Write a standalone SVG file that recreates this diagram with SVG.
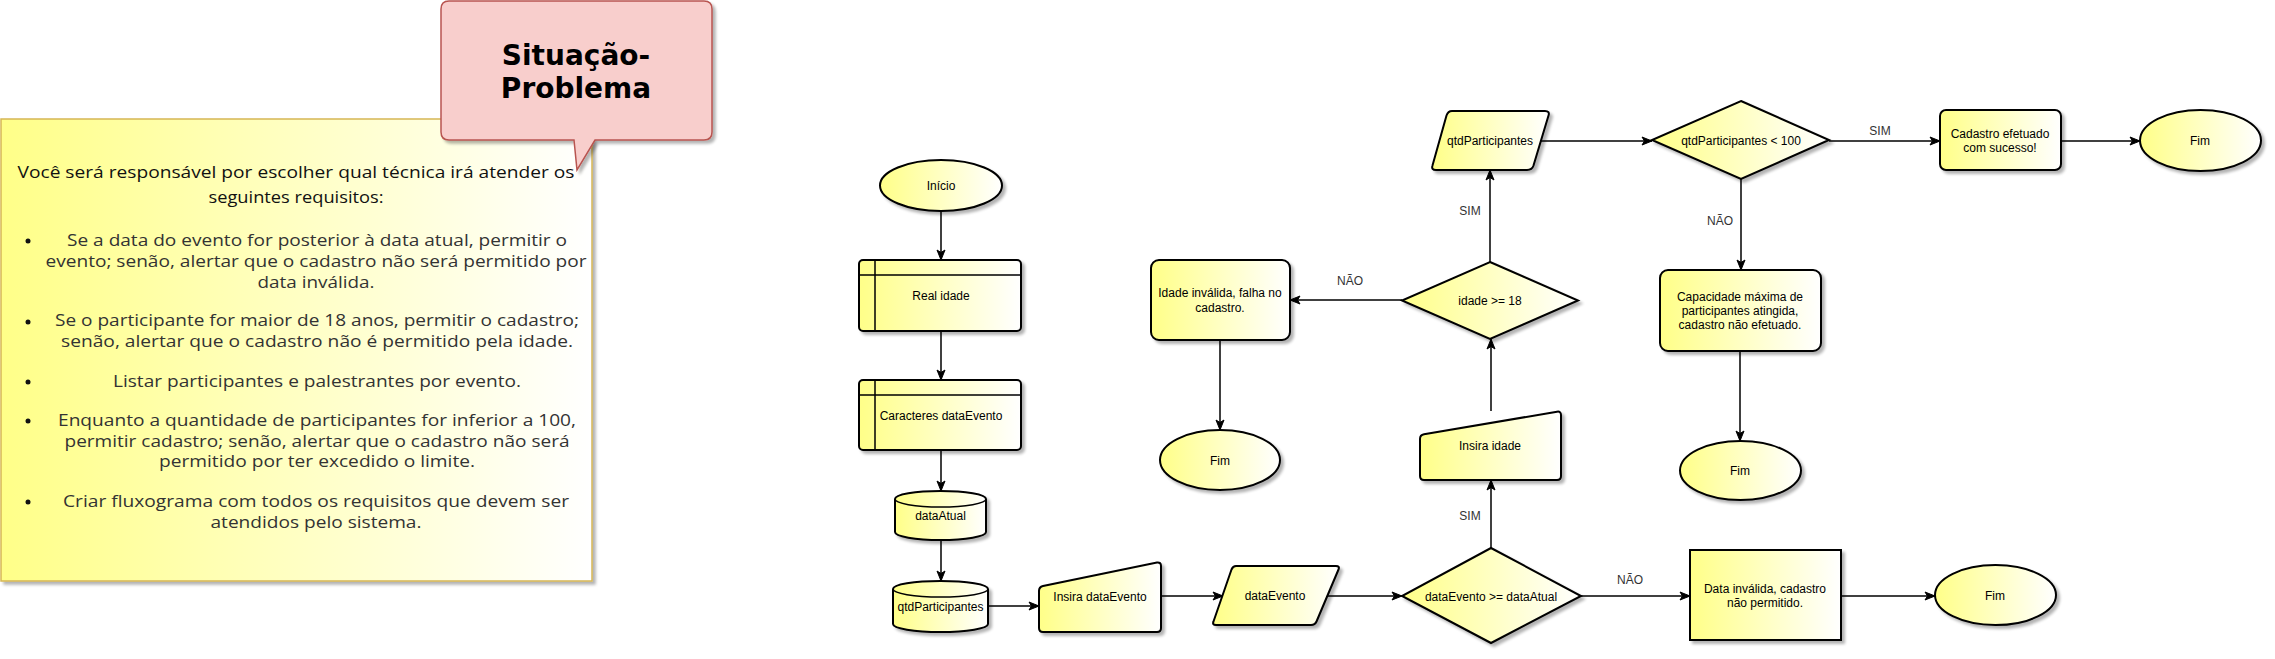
<svg xmlns="http://www.w3.org/2000/svg" width="2275" height="659" viewBox="0 0 2275 659">
<defs>
<linearGradient id="gY" x1="0" y1="0" x2="1" y2="0">
<stop offset="0" stop-color="#ffff88"/>
<stop offset="1" stop-color="#ffffff"/>
</linearGradient>
<filter id="sh" x="-10%" y="-10%" width="130%" height="130%">
<feGaussianBlur in="SourceAlpha" stdDeviation="1.5"/>
<feOffset dx="3" dy="3" result="b"/>
<feComponentTransfer><feFuncA type="linear" slope="0.3"/></feComponentTransfer>
<feMerge><feMergeNode/><feMergeNode in="SourceGraphic"/></feMerge>
</filter>
<marker id="ar" markerUnits="userSpaceOnUse" markerWidth="12" markerHeight="12" viewBox="0 0 12 12" refX="11" refY="6" orient="auto">
<path d="M1,2 L11,6 L1,10 L3.5,6 z" fill="#000" stroke="#000" stroke-width="1"/>
</marker>
<style>
.n{fill:url(#gY);stroke:#000;stroke-width:2;filter:url(#sh)}
.t{font-family:"Liberation Sans",Arial,sans-serif;font-size:12px;fill:#000;text-anchor:middle;dominant-baseline:central}
.lb{font-family:"Liberation Sans",Arial,sans-serif;font-size:12px;fill:#333;text-anchor:middle;dominant-baseline:central}
.e{fill:none;stroke:#000;stroke-width:1.5}
.ea{fill:none;stroke:#000;stroke-width:1.5;marker-end:url(#ar)}
.bt{font-family:"Open Sans","Noto Sans",sans-serif;font-size:17px;fill:#333;text-anchor:middle}
.ht{font-family:"Open Sans","Noto Sans",sans-serif;font-size:17px;fill:#111;text-anchor:middle}
</style>
</defs>
<rect width="2275" height="659" fill="#fff"/>

<g id="note">
<rect x="1" y="119" width="591" height="462" fill="url(#gY)" stroke="#d6b656" stroke-width="1.5" filter="url(#sh)"/>
<text class="ht" x="296" y="178" textLength="557" lengthAdjust="spacingAndGlyphs">Você será responsável por escolher qual técnica irá atender os</text>
<text class="ht" x="296" y="203" textLength="175" lengthAdjust="spacingAndGlyphs">seguintes requisitos:</text>
<g fill="#111"><circle cx="28" cy="241" r="2.5"/><circle cx="28" cy="322" r="2.5"/><circle cx="28" cy="382" r="2.5"/><circle cx="28" cy="421" r="2.5"/><circle cx="28" cy="502" r="2.5"/></g>
<text class="bt" x="317" y="246" textLength="500" lengthAdjust="spacingAndGlyphs">Se a data do evento for posterior à data atual, permitir o</text>
<text class="bt" x="316" y="267" textLength="541" lengthAdjust="spacingAndGlyphs">evento; senão, alertar que o cadastro não será permitido por</text>
<text class="bt" x="316" y="288" textLength="117" lengthAdjust="spacingAndGlyphs">data inválida.</text>
<text class="bt" x="317" y="326" textLength="524" lengthAdjust="spacingAndGlyphs">Se o participante for maior de 18 anos, permitir o cadastro;</text>
<text class="bt" x="317" y="347" textLength="512" lengthAdjust="spacingAndGlyphs">senão, alertar que o cadastro não é permitido pela idade.</text>
<text class="bt" x="317" y="387" textLength="408" lengthAdjust="spacingAndGlyphs">Listar participantes e palestrantes por evento.</text>
<text class="bt" x="317" y="426" textLength="518" lengthAdjust="spacingAndGlyphs">Enquanto a quantidade de participantes for inferior a 100,</text>
<text class="bt" x="317" y="447" textLength="505" lengthAdjust="spacingAndGlyphs">permitir cadastro; senão, alertar que o cadastro não será</text>
<text class="bt" x="317" y="467" textLength="316" lengthAdjust="spacingAndGlyphs">permitido por ter excedido o limite.</text>
<text class="bt" x="316" y="507" textLength="506" lengthAdjust="spacingAndGlyphs">Criar fluxograma com todos os requisitos que devem ser</text>
<text class="bt" x="316" y="528" textLength="211" lengthAdjust="spacingAndGlyphs">atendidos pelo sistema.</text>
</g>

<g id="callout">
<path d="M449,1 H704 Q712,1 712,9 V132 Q712,140 704,140 H595 L577,170 L574,140 H449 Q441,140 441,132 V9 Q441,1 449,1 Z" fill="#f8cecc" stroke="#b85450" stroke-width="1.5" filter="url(#sh)"/>
<text x="576" y="65" font-family="'DejaVu Sans',sans-serif" font-weight="bold" font-size="28" fill="#000" text-anchor="middle">Situação-</text>
<text x="576" y="98" font-family="'DejaVu Sans',sans-serif" font-weight="bold" font-size="28" fill="#000" text-anchor="middle">Problema</text>
</g>

<g id="connectors">
<line class="ea" x1="941" y1="211" x2="941" y2="260"/>
<line class="ea" x1="941" y1="331" x2="941" y2="380"/>
<line class="ea" x1="941" y1="450" x2="941" y2="491"/>
<line class="ea" x1="941" y1="540" x2="941" y2="581"/>
<line class="ea" x1="988" y1="606" x2="1039" y2="606"/>
<line class="ea" x1="1161" y1="596" x2="1223" y2="596"/>
<line class="ea" x1="1327" y1="596" x2="1402" y2="596"/>
<line class="ea" x1="1491" y1="548" x2="1491" y2="480"/>
<line class="ea" x1="1491" y1="411" x2="1491" y2="339"/>
<line class="ea" x1="1402" y1="300" x2="1290" y2="300"/>
<line class="ea" x1="1220" y1="340" x2="1220" y2="430"/>
<line class="ea" x1="1490" y1="262" x2="1490" y2="170"/>
<line class="ea" x1="1540" y1="141" x2="1652" y2="141"/>
<line class="ea" x1="1829" y1="141" x2="1940" y2="141"/>
<line class="ea" x1="2061" y1="141" x2="2140" y2="141"/>
<line class="ea" x1="1741" y1="179" x2="1741" y2="270"/>
<line class="ea" x1="1740" y1="351" x2="1740" y2="441"/>
<line class="ea" x1="1581" y1="596" x2="1690" y2="596"/>
<line class="ea" x1="1841" y1="596" x2="1935" y2="596"/>
<text class="lb" x="1470" y="516">SIM</text>
<text class="lb" x="1470" y="211">SIM</text>
<text class="lb" x="1350" y="281">NÃO</text>
<text class="lb" x="1880" y="131">SIM</text>
<text class="lb" x="1720" y="221">NÃO</text>
<text class="lb" x="1630" y="580">NÃO</text>
</g>

<g id="inicio">
<ellipse class="n" cx="941" cy="185.5" rx="61" ry="25.5"/>
<text class="t" x="941" y="185.5">Início</text>
</g>
<g id="real-idade">
<rect class="n" x="859" y="260" width="162" height="71" rx="4"/>
<path class="e" d="M875,260 V331 M859,275 H1021" stroke-width="2"/>
<text class="t" x="941" y="296">Real idade</text>
</g>
<g id="caracteres">
<rect class="n" x="859" y="380" width="162" height="70" rx="4"/>
<path class="e" d="M875,380 V450 M859,395 H1021" stroke-width="2"/>
<text class="t" x="941" y="416">Caracteres dataEvento</text>
</g>
<g id="data-atual">
<path class="n" d="M895,499 a45.5,8 0 0 1 91,0 v33 a45.5,8 0 0 1 -91,0 z"/>
<path class="e" stroke-width="2" d="M895,499 a45.5,8 0 0 0 91,0"/>
<text class="t" x="940.5" y="516">dataAtual</text>
</g>
<g id="qtd-cyl">
<path class="n" d="M893,589 a47.5,8 0 0 1 95,0 v35 a47.5,8 0 0 1 -95,0 z"/>
<path class="e" stroke-width="2" d="M893,589 a47.5,8 0 0 0 95,0"/>
<text class="t" x="940.5" y="607">qtdParticipantes</text>
</g>
<g id="insira-dataevento">
<path class="n" d="M1039,591 Q1039,587 1043,586 L1157,562.5 Q1161,562 1161,566 V628 Q1161,632 1157,632 H1043 Q1039,632 1039,628 Z"/>
<text class="t" x="1100" y="597">Insira dataEvento</text>
</g>
<g id="dataevento">
<path class="n" d="M1236,566 H1336 Q1340,566 1338.5,569.5 L1316.5,621.5 Q1315,625 1311,625 H1216 Q1212,625 1213.5,621.5 L1231.5,569.5 Q1233,566 1236,566 Z"/>
<text class="t" x="1275" y="596">dataEvento</text>
</g>
<g id="dec-data">
<path class="n" d="M1491,548 L1581,596 L1491,643 L1402,596 Z"/>
<text class="t" x="1491" y="597">dataEvento &gt;= dataAtual</text>
</g>
<g id="insira-idade">
<path class="n" d="M1420,439 Q1420,435 1424,434.3 L1557,411.7 Q1561,411 1561,415 V476 Q1561,480 1557,480 H1424 Q1420,480 1420,476 Z"/>
<text class="t" x="1490" y="446">Insira idade</text>
</g>
<g id="dec-idade">
<path class="n" d="M1490,262 L1578,300.5 L1490,339 L1402,300.5 Z"/>
<text class="t" x="1490" y="301">idade &gt;= 18</text>
</g>
<g id="idade-invalida">
<rect class="n" x="1151" y="260" width="139" height="80" rx="8"/>
<text class="t" x="1220" y="293">Idade inválida, falha no</text>
<text class="t" x="1220" y="308">cadastro.</text>
</g>
<g id="fim1">
<ellipse class="n" cx="1220" cy="460" rx="60" ry="30"/>
<text class="t" x="1220" y="461">Fim</text>
</g>
<g id="qtd-para">
<path class="n" d="M1452,111 H1545 Q1550,111 1548.5,115.5 L1533.5,165.5 Q1532,170 1527,170 H1436 Q1431,170 1432.5,165.5 L1446.5,115.5 Q1448,111 1452,111 Z"/>
<text class="t" x="1490" y="141">qtdParticipantes</text>
</g>
<g id="dec-qtd">
<path class="n" d="M1741,101 L1829,140 L1741,179 L1652,140 Z"/>
<text class="t" x="1741" y="141">qtdParticipantes &lt; 100</text>
</g>
<g id="cadastro-ok">
<rect class="n" x="1940" y="110" width="121" height="60" rx="6"/>
<text class="t" x="2000" y="134">Cadastro efetuado</text>
<text class="t" x="2000" y="148">com sucesso!</text>
</g>
<g id="fim2">
<ellipse class="n" cx="2200.5" cy="140.5" rx="60.5" ry="30.5"/>
<text class="t" x="2200" y="141">Fim</text>
</g>
<g id="capacidade">
<rect class="n" x="1660" y="270" width="161" height="81" rx="8"/>
<text class="t" x="1740" y="297">Capacidade máxima de</text>
<text class="t" x="1740" y="311">participantes atingida,</text>
<text class="t" x="1740" y="325">cadastro não efetuado.</text>
</g>
<g id="fim3">
<ellipse class="n" cx="1740.5" cy="470.5" rx="60.5" ry="29.5"/>
<text class="t" x="1740" y="471">Fim</text>
</g>
<g id="data-invalida">
<rect class="n" x="1690" y="550" width="151" height="90"/>
<text class="t" x="1765" y="589">Data inválida, cadastro</text>
<text class="t" x="1765" y="603">não permitido.</text>
</g>
<g id="fim4">
<ellipse class="n" cx="1995.5" cy="595" rx="60.5" ry="30"/>
<text class="t" x="1995" y="596">Fim</text>
</g>
</svg>
